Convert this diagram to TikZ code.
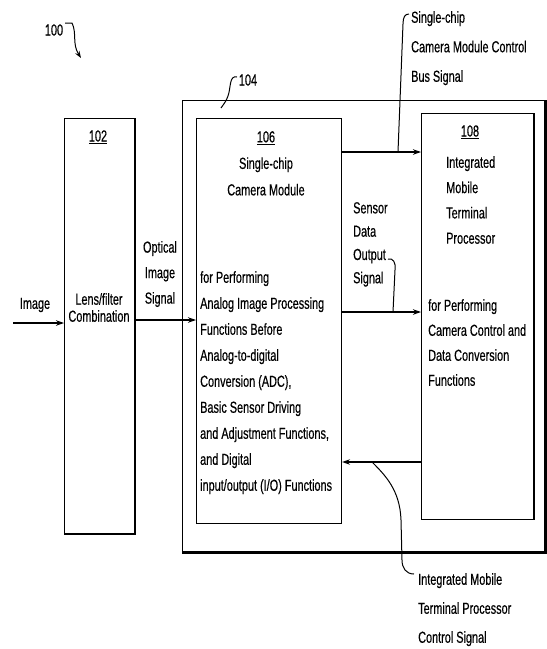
\documentclass[tikz,border=0pt]{standalone}
\usepackage{fontspec}
\setmainfont{Liberation Sans}[FakeStretch=0.68,FakeBold=0.4]
\usetikzlibrary{arrows.meta}
\begin{document}
\begin{tikzpicture}[x=1pt,y=-1pt,
  box/.style={draw,line width=1.1pt,rectangle,inner sep=0pt,anchor=north west},
  txt/.style={inner sep=0pt,font=\fontsize{16}{#1}\selectfont},
  txt/.default=26,
  conn/.style={line width=1.1pt,-{Stealth[length=8pt,width=5.5pt]}},
  lead/.style={line width=1pt},
]
\useasboundingbox (0,0) rectangle (547,649);

% boxes
\node[box,minimum width=70pt,minimum height=415pt] (b102) at (64,118) {};
\node[box,minimum width=362pt,minimum height=451pt] (b104) at (182,100) {};
\node[box,minimum width=145pt,minimum height=405pt] (b106) at (196,118) {};
\node[box,minimum width=112pt,minimum height=406pt] (b108) at (421,113) {};
\draw[line width=2.6pt] (b102.north east) -- (b102.south east) -- (b102.south west);
\draw[line width=3pt] (b104.south west) -- (b104.south east) -- (b104.north east);
\draw[line width=1.8pt] (b108.north east) -- (b108.south east);

% reference numerals
\node[txt] (t100) at (54,30) {100};
\node[txt] (t104) at (248,80) {104};
\node[txt] (n102) at (98,137) {\underline{102}};
\node[txt=26.5,align=center,anchor=north] (n106) at (266,131) {\underline{106}\\Single-chip\\Camera Module};
\node[txt] (n108) at (470,132) {\underline{108}};

% texts inside boxes
\node[txt=17,align=center] (lens) at (99,307.5) {Lens/filter\\Combination};
\node[txt=26,align=left,anchor=north west] (body106) at (200,271) {for Performing\\Analog Image Processing\\Functions Before\\Analog-to-digital\\Conversion (ADC),\\Basic Sensor Driving\\and Adjustment Functions,\\and Digital\\input/output (I/O) Functions};
\node[txt=25.3,align=left,anchor=north west] (title108) at (446,156) {Integrated\\Mobile\\Terminal\\Processor};
\node[txt=25,align=left,anchor=north west] (body108) at (428,299) {for Performing\\Camera Control and\\Data Conversion\\Functions};

% signal labels
\node[txt] (limage) at (35,305) {Image};
\node[txt=25.5,align=center] (lopt) at (160,274) {Optical\\Image\\Signal};
\node[txt=23.3,align=left,anchor=north west] (lsens) at (353,202) {Sensor\\Data\\Output\\Signal};
\node[txt=29.5,align=left,anchor=north west] (lbus) at (411,11) {Single-chip\\Camera Module Control\\Bus Signal};
\node[txt=29,align=left,anchor=north west] (lctl) at (418,573) {Integrated Mobile\\Terminal Processor\\Control Signal};

% connectors
\coordinate (imgin) at (13,323);
\draw[conn] (imgin) -- (b102.west |- imgin);
\draw[conn] (b102.east |- 0,320) -- (b106.west |- 0,320);
\draw[conn] (b106.east |- 0,152) -- (b108.west |- 0,152);
\draw[conn] (b106.east |- 0,312) -- (b108.west |- 0,312);
\draw[conn] (b108.west |- 0,462) -- (b106.east |- 0,462);

% leader lines
\coordinate (c100) at (81,58);
\draw[lead,-{Stealth[length=7pt,width=5pt]}] (65,23) -- (72,23) .. controls (77,33) and (72,44) .. (c100);
\coordinate (c104) at (221,108);
\draw[lead] (237,77) .. controls (229,75) and (231,88) .. (228,96) .. controls (226,101) .. (c104);
\coordinate (cbus) at (398,152);
\draw[lead] (409,14) .. controls (405,14) and (403,17) .. (403,24) -- (cbus);
\coordinate (csens) at (393,312);
\draw[lead] (388,259) .. controls (393,258) and (396,262) .. (395,270) -- (csens);
\coordinate (cctl) at (372,462);
\draw[lead] (cctl) .. controls (385,475) and (400,490) .. (401,520) -- (402,560) .. controls (402,568) and (406,574) .. (414,574);
\end{tikzpicture}
\end{document}
